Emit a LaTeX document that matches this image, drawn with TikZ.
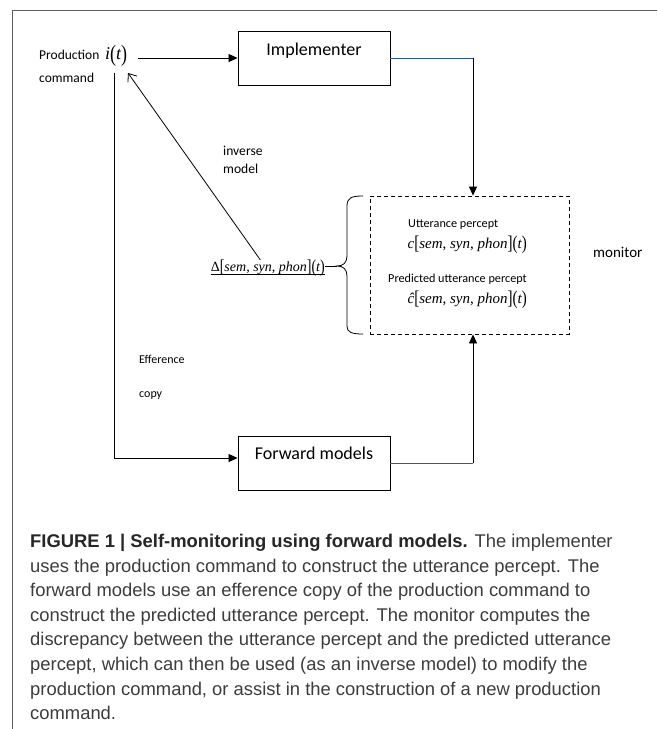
\documentclass[tikz,border=0pt]{standalone}
\usepackage{fontspec}
\usepackage{graphicx}
\setmainfont{Carlito}
\newfontfamily\capfont{Liberation Sans}
\newfontfamily\eqfont{Liberation Serif}
\usetikzlibrary{arrows.meta}
\definecolor{linkblue}{RGB}{47,85,170}
\definecolor{framegray}{RGB}{95,95,95}
\definecolor{captext}{RGB}{60,60,60}
\newcommand{\eqit}[1]{{\eqfont\itshape #1}}
\newcommand{\tallbr}[1]{\raisebox{-0.12em}{\scalebox{1}[1.3]{\eqfont #1}}}
\newcommand{\sspargs}{\tallbr{[}\eqit{sem}{\eqfont, }\eqit{syn}{\eqfont, }\eqit{phon}\tallbr{]}\tallbr{(}\eqit{t}\tallbr{)}}

\begin{document}
\begin{tikzpicture}[x=1pt,y=-1pt,
    box/.style={draw, line width=0.9pt, minimum width=152pt, inner sep=0pt, anchor=base, font=\fontsize{18}{20}\selectfont},
    lbl/.style={anchor=base west, inner sep=0pt, font=\fontsize{#1}{#1}\selectfont},
    arr/.style={-{Triangle[length=9pt,width=8pt]}, line width=0.8pt}]

      \useasboundingbox (0,0) rectangle (657,729);
      \draw[framegray, line width=0.8pt] (12,729) -- (12,10) -- (657,10);

      \node[box, text height=24pt, text depth=30pt] (impl) at (314,55) {Implementer};
      \node[box, text height=23pt, text depth=31pt] (fwd) at (314,459) {Forward models};
      \node[draw, dashed, dash pattern=on 4pt off 3pt, line width=0.8pt, minimum width=199pt, minimum height=138pt, inner sep=0pt] (mon) at (469.5,265) {};

      \node[lbl=13.5] (prod) at (39,59) {Production};
      \node[lbl=13.5] (cmd) at (39,82) {command};
      \node[lbl=18] (it) at (105,59) {\eqit{i}\tallbr{(}\eqit{t}\tallbr{)}};

      \node[lbl=13.6] (inv) at (223,155) {inverse};
      \node[lbl=13.6] (mdl) at (223,173) {model};
      \node[lbl=12] (eff) at (139,363) {Efference};
      \node[lbl=12] (cpy) at (139,397) {copy};

      \node[lbl=12.2] (upc) at (408,227) {Utterance percept};
      \node[lbl=15, anchor=base east] (cl) at (527,248) {\eqit{c}\sspargs};
      \node[lbl=12.2] (ppc) at (388,282) {Predicted utterance percept};
      \node[lbl=15, anchor=base east] (chl) at (527,303) {\eqit{ĉ}\sspargs};
      \node[lbl=15] (monlbl) at (593,257) {monitor};

      \node[lbl=14, anchor=base east] (dl) at (325,271) {{\eqfont Δ}\sspargs};
      \draw[line width=0.6pt] ([yshift=-3.5pt]dl.base west) -- ([yshift=-3.5pt]dl.base east);

      % brace in front of the monitor
      \coordinate (btip) at (337,266);
      \draw[line width=0.8pt] (363,196) .. controls (351,196) and (347,198) .. (347,206) -- (347,256)
        .. controls (347,263) and (343,266) .. (btip) .. controls (343,266) and (347,269) .. (347,276)
        -- (347,326) .. controls (347,332) and (351,334) .. (363,334);
      \draw[line width=0.8pt] (dl.east |- btip) -- (btip);

      % inverse model
      \coordinate (invtip) at (128,73);
      \draw[line width=0.8pt, -{Straight Barb[length=7pt,width=11pt]}] ([xshift=-7.5pt]dl.north) -- (invtip);

      % production command to implementer
      \coordinate (cmdout) at (138,58);
      \draw[arr] (cmdout) -- (impl.west);

      \coordinate (implturn) at (473,58);
      \draw[linkblue, line width=0.9pt] (impl.east) -- (implturn);
      \draw[arr] (implturn) -- (implturn |- mon.north);

      \coordinate (fwdturn) at (473,463);
      \draw[linkblue, line width=0.9pt] (fwd.east) -- (fwdturn);
      \draw[arr] (fwdturn) -- (fwdturn |- mon.south);

      % efference copy
      \coordinate (cmdfoot) at (114,73);
      \draw[arr] (cmdfoot) |- ([yshift=5pt]fwd.west);

      \node[anchor=north west, inner sep=0pt, align=left, text=captext, font=\capfont\fontsize{18.4}{24.6}\selectfont] (caption) at (30,534)
        {{\bfseries\color{black!85}FIGURE 1 | Self-monitoring using forward models.} The implementer\\
         uses the production command to construct the utterance percept. The\\
         forward models use an efference copy of the production command to\\
         construct the predicted utterance percept. The monitor computes the\\
         discrepancy between the utterance percept and the predicted utterance\\
         percept, which can then be used (as an inverse model) to modify the\\
         production command, or assist in the construction of a new production\\
         command.};

    \end{tikzpicture}
\end{document}
